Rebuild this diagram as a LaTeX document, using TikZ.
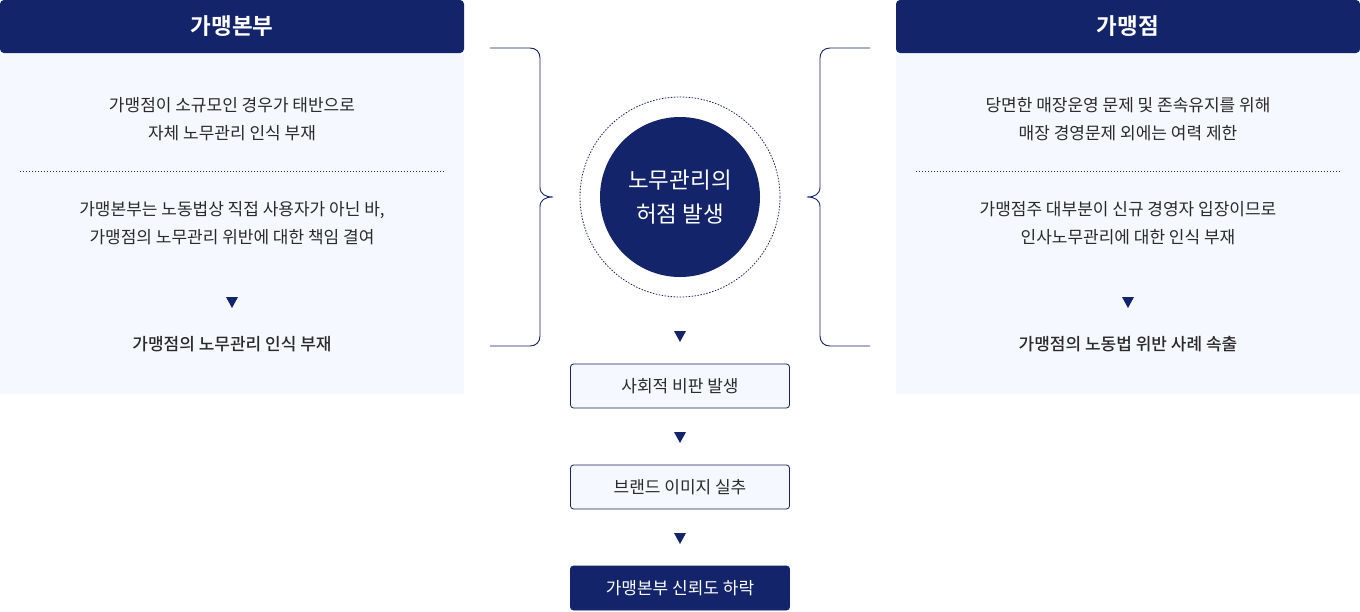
\documentclass[tikz,border=0pt]{standalone}
\usepackage{fontspec}
\setmainfont{Noto Sans CJK KR}[BoldFont={Noto Sans CJK KR Bold}]
\newfontfamily\medfont{Noto Sans CJK KR Medium}
\usetikzlibrary{positioning}
\definecolor{navy}{HTML}{13246A}
\definecolor{panelbg}{HTML}{F5F8FE}
\definecolor{txt}{HTML}{2A2A2A}
\tikzset{
  x=1pt,y=-1pt,
  body/.style={text=txt,font=\fontsize{17}{28}\selectfont,align=center,inner sep=0pt},
  concl/.style={text=txt,font=\medfont\fontsize{17}{28}\selectfont,align=center,inner sep=0pt},
  head/.style={text=white,font=\bfseries\fontsize{22.5}{26}\selectfont,inner sep=0pt},
  tri/.style={fill=navy,draw=none},
  flowbox/.style={draw=navy,line width=0.8pt,fill=panelbg,rounded corners=3pt,minimum width=219pt,minimum height=44pt,text=txt,font=\fontsize{17}{20}\selectfont,inner sep=0pt},
  flowdark/.style={flowbox,fill=navy,text=white},
  sep/.style={draw=navy,line width=0.8pt,dash pattern=on 1pt off 2pt},
  brace/.style={draw=navy,line width=0.9pt},
}
\newcommand{\downtri}[2]{\fill[tri] (#1-6,#2-5) -- (#1+6,#2-5) -- (#1,#2+6) -- cycle;}
\begin{document}
\begin{tikzpicture}
\useasboundingbox (0,0) rectangle (1360,611);
\fill[white] (0,0) rectangle (1360,611);
% left panel
\fill[panelbg] (0,40) rectangle (464,394);
\fill[navy,rounded corners=4pt] (0,53) -- (0,0) -- (464,0) -- (464,53) -- cycle;
\node[head] (lh) at (232,26) {가맹본부};
\node[body] (l1) at (232,119) {가맹점이 소규모인 경우가 태반으로\\자체 노무관리 인식 부재};
\draw[sep] (20,171) -- (444,171);
\node[body] (l2) at (232,223) {가맹본부는 노동법상 직접 사용자가 아닌 바,\\가맹점의 노무관리 위반에 대한 책임 결여};
\downtri{232}{302}
\node[concl] (l3) at (232,344) {가맹점의 노무관리 인식 부재};
% right panel
\fill[panelbg] (896,40) rectangle (1360,394);
\fill[navy,rounded corners=4pt] (896,53) -- (896,0) -- (1360,0) -- (1360,53) -- cycle;
\node[head] (rh) at (1128,26) {가맹점};
\node[body] (r1) at (1128,119) {당면한 매장운영 문제 및 존속유지를 위해\\매장 경영문제 외에는 여력 제한};
\draw[sep] (916,171) -- (1340,171);
\node[body] (r2) at (1128,223) {가맹점주 대부분이 신규 경영자 입장이므로\\인사노무관리에 대한 인식 부재};
\downtri{1128}{302}
\node[concl] (r3) at (1128,344) {가맹점의 노동법 위반 사례 속출};
% braces
\draw[brace] (490,48) -- (530,48) .. controls (536,48) and (540,52) .. (540,58)
  -- (540,187) .. controls (540,194) and (545,197) .. (553,197)
  .. controls (545,197) and (540,200) .. (540,207)
  -- (540,336) .. controls (540,342) and (536,346) .. (530,346) -- (490,346);
\draw[brace] (870,48) -- (830,48) .. controls (824,48) and (820,52) .. (820,58)
  -- (820,187) .. controls (820,194) and (815,197) .. (807,197)
  .. controls (815,197) and (820,200) .. (820,207)
  -- (820,336) .. controls (820,342) and (824,346) .. (830,346) -- (870,346);
% circle
\draw[navy,line width=0.8pt,dash pattern=on 1.5pt off 1.5pt] (680,197) circle (100);
\node[circle,fill=navy,minimum size=160pt,inner sep=0pt,text=white,align=center,font=\fontsize{22.5}{34}\selectfont] (c) at (680,197) {노무관리의\\허점 발생};
\downtri{680}{336}
\node[flowbox] (b1) at (680,386) {사회적 비판 발생};
\downtri{680}{437}
\node[flowbox] (b2) at (680,487) {브랜드 이미지 실추};
\downtri{680}{538}
\node[flowdark] (b3) at (680,588) {가맹본부 신뢰도 하락};
\end{tikzpicture}
\end{document}
